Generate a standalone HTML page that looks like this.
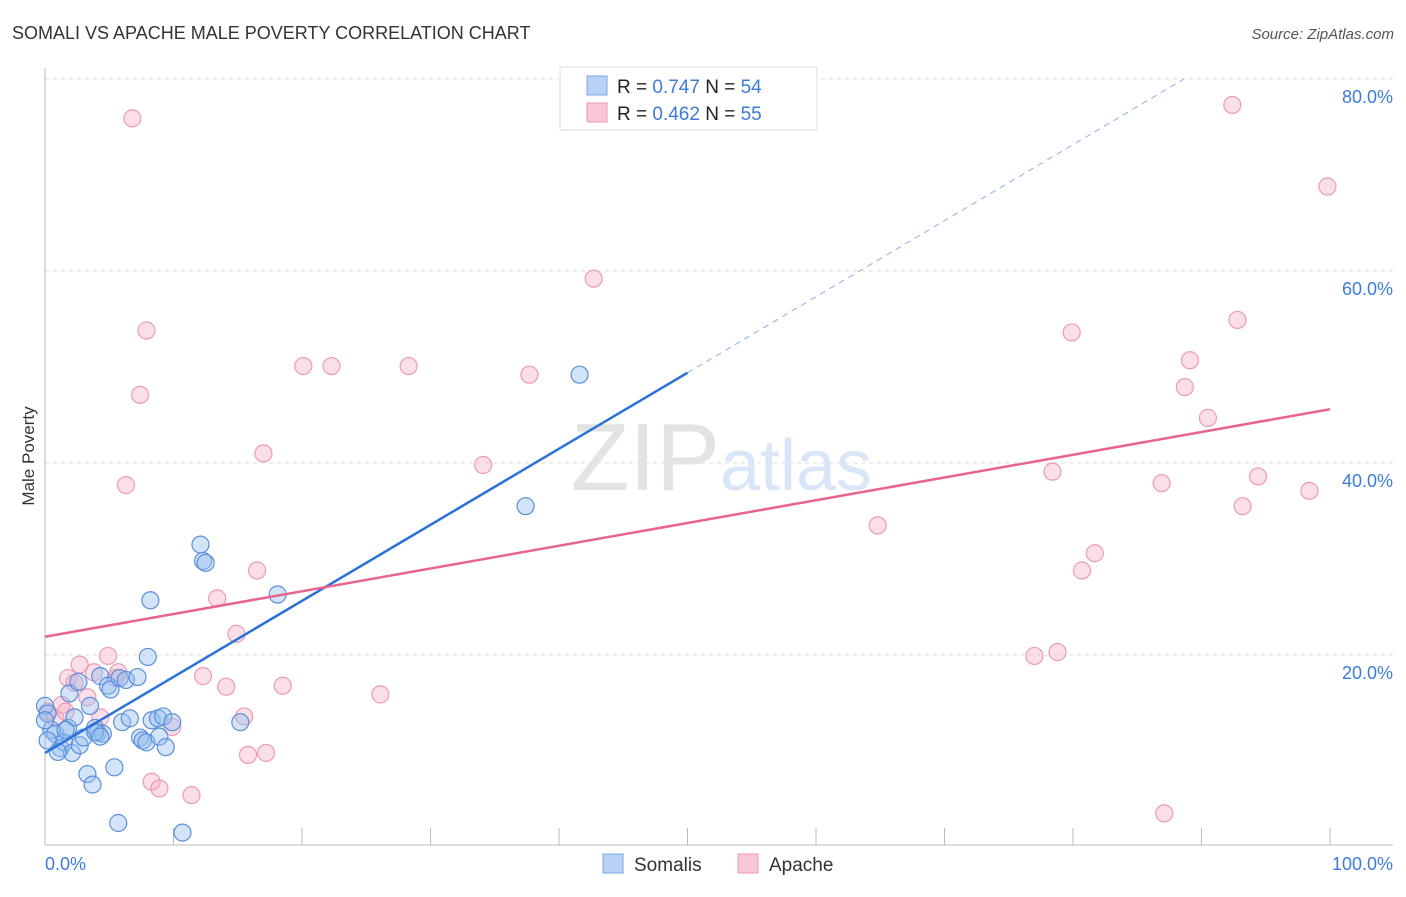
<!DOCTYPE html>
<html><head><meta charset="utf-8"><style>
body{margin:0;background:#fff;font-family:"Liberation Sans",sans-serif;}
svg text{font-family:"Liberation Sans",sans-serif;}
</style></head><body>
<svg id="chart" width="1406" height="892" xmlns="http://www.w3.org/2000/svg">
<text x="12" y="39" font-size="18" fill="#333">SOMALI VS APACHE MALE POVERTY CORRELATION CHART</text>
<text x="1394" y="39" font-size="15" fill="#555" font-style="italic" text-anchor="end">Source: ZipAtlas.com</text>
<text x="34" y="456" font-size="17" fill="#333" text-anchor="middle" transform="rotate(-90 34 456)">Male Poverty</text>
<g id="grid"></g>
<text x="720" y="490" font-size="96" fill="#e3e3e3" text-anchor="end" font-family="Liberation Serif">ZIP</text>
<text x="720" y="490" font-size="72" fill="#d8e6f7">atlas</text>
<g id="pts"></g>
<g id="lines"></g>
<g>
<rect x="560" y="67" width="257" height="63" fill="#fff" stroke="#ddd"/>
<rect x="587" y="76" width="20" height="19" fill="#b7d2f5" stroke="#7aa7e4"/>
<rect x="587" y="103" width="20" height="19" fill="#f9c6d5" stroke="#ec9ab5"/>
<text x="617" y="93" font-size="19" fill="#222">R = <tspan fill="#3d7bd9">0.747</tspan>   N = <tspan fill="#3d7bd9">54</tspan></text>
<text x="617" y="120" font-size="19" fill="#222">R = <tspan fill="#3d7bd9">0.462</tspan>   N = <tspan fill="#3d7bd9">55</tspan></text>
</g>
<g>
<rect x="603" y="854" width="20" height="19" fill="#b7d2f5" stroke="#7aa7e4"/>
<text x="634" y="871" font-size="19" fill="#333">Somalis</text>
<rect x="738" y="854" width="20" height="19" fill="#f9c6d5" stroke="#ec9ab5"/>
<text x="769" y="871" font-size="19" fill="#333">Apache</text>
</g>
</svg>
<script>
const yTicks=[20,40,60,80];
const yTickLabels=["20.0%","40.0%","60.0%","80.0%"];
const xTicks=[0,10,20,30,40,50,60,70,80,90,100];
const somaliX=[0,0.2,0.5,0.8,1.2,1.5,1.8,1.9,2.1,2.3,2.6,2.7,3.0,3.3,3.5,3.7,3.9,4.1,4.3,4.5,4.9,5.1,5.4,5.7,5.8,6.0,6.3,7.2,7.4,7.6,7.9,8.0,8.2,8.3,8.8,8.9,9.2,9.4,9.9,10.7,12.1,12.3,12.5,15.2,18.1,37.4,41.6,0,1.0,3.9,4.3,6.6,0.2,1.6];
const somaliY=[14.7,13.9,12.2,11.8,10.3,10.9,12.4,16.0,9.8,13.5,17.2,10.6,11.4,7.6,14.7,6.5,12.4,11.9,17.8,11.8,16.8,16.4,8.3,2.5,17.6,13.0,17.4,17.7,11.4,11.1,10.9,19.8,25.7,13.2,13.4,11.5,13.6,10.4,13.0,1.5,31.5,29.8,29.6,13.0,26.3,35.5,49.2,13.2,9.9,12.0,11.5,13.4,11.1,12.2];
const apacheX=[6.8,7.9,7.4,6.3,17.0,20.1,22.3,28.3,37.7,42.7,34.1,64.8,79.9,92.8,89.1,88.7,90.5,78.4,86.9,94.4,93.2,98.4,92.4,99.8,81.7,80.7,77.0,78.8,87.1,16.5,13.4,14.9,12.3,14.1,18.5,26.1,15.5,15.8,17.2,8.3,8.9,11.4,4.9,2.7,1.8,2.3,3.8,5.7,5.5,3.3,4.3,0.2,0.8,1.3,9.9,1.6];
const apacheY=[75.9,53.8,47.1,37.7,41.0,50.1,50.1,50.1,49.2,59.2,39.8,33.5,53.6,54.9,50.7,47.9,44.7,39.1,37.9,38.6,35.5,37.1,77.3,68.8,30.6,28.8,19.9,20.3,3.5,28.8,25.9,22.2,17.8,16.7,16.8,15.9,13.6,9.6,9.8,6.8,6.1,5.4,19.9,19.0,17.6,17.1,18.2,18.2,17.6,15.6,13.5,14.1,13.4,14.8,12.5,14.1];
const somaliTrend=[9.8,49.4];
const apacheTrend=[21.9,45.6];
const X0=45,X1=1330,Y0=847,PPY=9.6;
const sx=v=>X0+(X1-X0)*v/100, sy=v=>Y0-v*PPY;
const NS="http://www.w3.org/2000/svg";
function mk(t,a,p){const e=document.createElementNS(NS,t);for(const k in a)e.setAttribute(k,a[k]);p.appendChild(e);return e;}
const grid=document.getElementById('grid');
yTicks.forEach((t,i)=>{
 const l=mk('line',{x1:45,x2:1393,y1:sy(t),y2:sy(t),stroke:'#ddd','stroke-dasharray':'4,4'},grid);
 
 
 const tx=mk('text',{x:1393,y:sy(t)+24,'font-size':18,fill:'#3d7bd9','text-anchor':'end'},grid);
 tx.textContent=yTickLabels[i];
 
 
});
const ax=mk('line',{x1:45,x2:45,y1:68,y2:845,stroke:'#bbb'},grid);


const bx=mk('line',{x1:45,x2:1393,y1:845,y2:845,stroke:'#bbb'},grid);


xTicks.forEach(t=>{
 const l=mk('line',{x1:sx(t),x2:sx(t),y1:828,y2:845,stroke:'#bbb'},grid);
 
 
});
const xl0=mk('text',{x:45,y:870,'font-size':18,fill:'#3d7bd9'},grid);xl0.textContent='0.0%';


const xl1=mk('text',{x:1393,y:870,'font-size':18,fill:'#3d7bd9','text-anchor':'end'},grid);xl1.textContent='100.0%';


const pts=document.getElementById('pts');
apacheX.forEach((x,i)=>{
 const c=mk('circle',{cx:sx(x),cy:sy(apacheY[i]),r:8.5,fill:'rgba(245,170,195,0.38)',stroke:'#ec9ab5','stroke-width':1.2},pts);
 
 
});
somaliX.forEach((x,i)=>{
 const c=mk('circle',{cx:sx(x),cy:sy(somaliY[i]),r:8.5,fill:'rgba(150,190,240,0.42)',stroke:'#5b8fdc','stroke-width':1.2},pts);
 
 
});
const lines=document.getElementById('lines');
const sl=(somaliTrend[1]-somaliTrend[0])/50;
const bl=mk('line',{x1:sx(0),y1:sy(somaliTrend[0]),x2:sx(50),y2:sy(somaliTrend[1]),stroke:'#2a72d8','stroke-width':2.5},lines);


const xe=(80-somaliTrend[0])/sl;
const bd=mk('line',{x1:sx(50),y1:sy(somaliTrend[1]),x2:sx(xe),y2:sy(80),stroke:'#8ab0e6','stroke-width':1,'stroke-dasharray':'6,5'},lines);


const pl=mk('line',{x1:sx(0),y1:sy(apacheTrend[0]),x2:sx(100),y2:sy(apacheTrend[1]),stroke:'#e8648f','stroke-width':2.5},lines);


</script>
</body></html>
